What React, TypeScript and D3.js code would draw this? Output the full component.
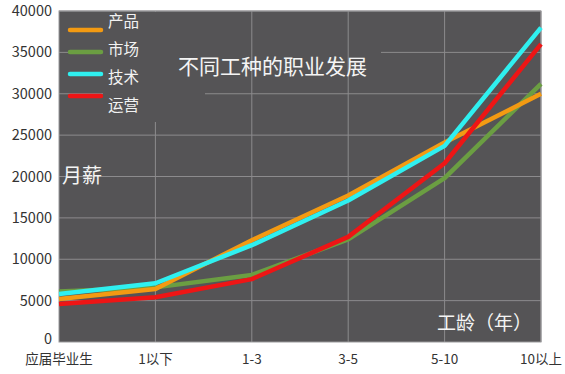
import * as d3 from 'd3'

const categories = ['应届毕业生', '1以下', '1-3', '3-5', '5-10', '10以上']
const yTicks = [0, 5000, 10000, 15000, 20000, 25000, 30000, 35000, 40000]

const product = [5200, 6400, 12300, 17700, 24100, 30000]
const market = [6100, 6600, 8100, 12400, 19800, 31200]
const tech = [5800, 7100, 11700, 17100, 23700, 38000]
const ops = [4600, 5400, 7600, 12700, 21600, 36000]

const seriesNames = ['产品', '市场', '技术', '运营']
const seriesColors = ['#f39a12', '#6b9e42', '#2ff0f0', '#ee1515']

const W = 565
const H = 374
const margin = { left: 59, right: 24, top: 11, bottom: 32 }

export default function App() {
  const values = [product, market, tech, ops]
  const x = d3
    .scalePoint<string>()
    .domain(categories)
    .range([margin.left, W - margin.right])
  const y = d3
    .scaleLinear()
    .domain([0, 40000])
    .range([H - margin.bottom, margin.top])

  const line = d3
    .line<number>()
    .x((_, i) => x(categories[i]) as number)
    .y((d) => y(d))

  const plotW = W - margin.left - margin.right
  const plotH = H - margin.top - margin.bottom
  const font = '"Noto Sans CJK SC", "Noto Sans", sans-serif'
  // drawing order: green, orange, red, cyan on top
  const order = [1, 0, 3, 2]

  return (
    <svg
      width={W}
      height={H}
      style={{ position: 'absolute', left: 0, top: 0, background: '#fff' }}
      fontFamily={font}
    >
      <rect x={margin.left} y={margin.top} width={plotW} height={plotH} fill="#555456" />
      {yTicks.slice(1).map((t) => (
        <line
          key={t}
          x1={margin.left}
          x2={W - margin.right}
          y1={y(t)}
          y2={y(t)}
          stroke="#8c8b8d"
          strokeWidth={1}
        />
      ))}
      <line
        x1={x(categories[1])}
        x2={x(categories[1])}
        y1={margin.top}
        y2={H - margin.bottom}
        stroke="#8c8b8d"
      />
      {/* text boxes of the original hide some gridlines */}
      <rect x={103} y={12} width={102} height={110} fill="#555456" />
      <rect x={205} y={44} width={176} height={16} fill="#555456" />
      {categories.slice(2).map((c) => (
        <line
          key={c}
          x1={x(c)}
          x2={x(c)}
          y1={margin.top}
          y2={H - margin.bottom}
          stroke="#8c8b8d"
        />
      ))}
      <rect
        x={margin.left}
        y={margin.top}
        width={plotW}
        height={plotH}
        fill="none"
        stroke="#9a999b"
        strokeWidth={1}
      />

      {order.map((i) => (
        <path
          key={seriesNames[i]}
          d={line(values[i]) || ''}
          fill="none"
          stroke={seriesColors[i]}
          strokeWidth={4.5}
          strokeLinejoin="round"
        />
      ))}

      {/* legend */}
      {seriesNames.map((n, i) => (
        <g key={n}>
          <line
            x1={70}
            x2={101}
            y1={30 + i * 22}
            y2={30 + i * 22}
            stroke={seriesColors[i]}
            strokeWidth={4.5}
            strokeLinecap="round"
          />
          <text x={108} y={22 + i * 28} dy="0.35em" fontSize={15.5} fill="#f2f2f2">
            {n}
          </text>
        </g>
      ))}

      <text x={178} y={67} dy="0.35em" fontSize={21} fill="#f4f4f4">
        不同工种的职业发展
      </text>
      <text x={62} y={176} dy="0.35em" fontSize={20} fill="#f4f4f4">
        月薪
      </text>
      <text x={437} y={323} dy="0.35em" fontSize={19} fill="#f4f4f4">
        工龄（年）
      </text>

      {yTicks.map((t) => (
        <text
          key={t}
          x={margin.left - 7}
          y={t === 0 ? y(t) - 3 : y(t)}
          dy="0.35em"
          textAnchor="end"
          fontSize={14.5}
          fill="#333"
        >
          {t}
        </text>
      ))}
      {categories.map((c) => (
        <text
          key={c}
          x={x(c)}
          y={359}
          dy="0.35em"
          textAnchor="middle"
          fontSize={13.5}
          fill="#333"
        >
          {c}
        </text>
      ))}
    </svg>
  )
}
